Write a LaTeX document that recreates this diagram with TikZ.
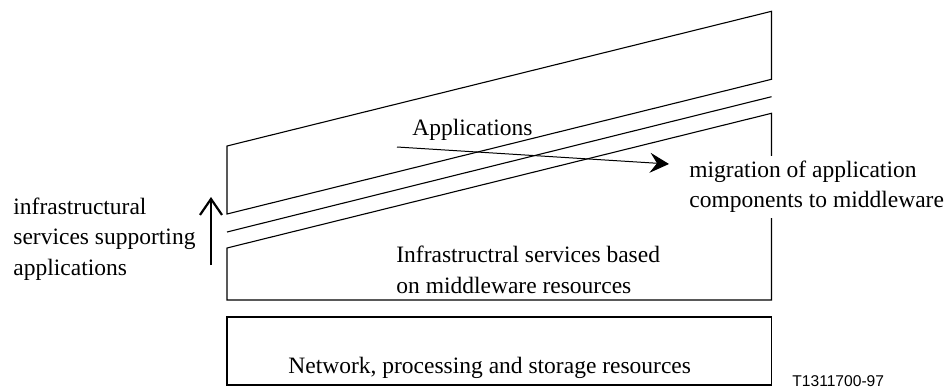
\documentclass[tikz,border=0pt]{standalone}
\usepackage{fontspec}
\setmainfont{Liberation Serif}
\newfontfamily\labelsans{Liberation Sans}
\usetikzlibrary{arrows.meta}
\tikzset{
  shapeline/.style={draw=black, line width=0.55pt, line join=miter},
  txt/.style={inner sep=0pt, font=\fontsize{11.75pt}{15.1pt}\selectfont, align=left},
  migarrow/.style={draw=black, line width=0.5pt, -{Stealth[length=9.5pt,width=10pt,inset=3.5pt]}},
  uparrow/.style={draw=black, line width=1.1pt, -{Straight Barb[length=8pt,width=11pt,line width=1.1pt]}},
}
\begin{document}
\begin{tikzpicture}[x=0.5pt,y=-0.5pt]
\useasboundingbox (0,0) rectangle (948,387);
% Applications layer (parallelogram)
\draw[shapeline] (227,146) -- (771.5,11.3) -- (771.5,79.3) -- (227,214) -- cycle;
% separating line
\draw[shapeline] (227,232) -- (771.5,96.7);
% Infrastructural services layer
\draw[shapeline] (227,300) -- (227,248) -- (771.5,113.3) -- (771.5,300) -- cycle;
% Network box
\draw[shapeline] (227,317) rectangle (771.5,385);

% texts (base anchor = baseline of the last line)
\node[txt, anchor=base west] (apps) at (412,135) {Applications};
\node[txt, anchor=base west] (infra) at (396,293) {Infrastructral services based\\on middleware resources};
\node[txt, anchor=base west] (net) at (288,373) {Network, processing and storage resources};
\node[txt, anchor=base west] (left) at (13,275) {infrastructural\\services supporting\\applications};
\node[txt, anchor=base west, fill=white, inner ysep=2.5pt, inner xsep=0pt] (mig) at (689,207.5) {migration of application\\components to middleware};
\node[inner sep=0pt, anchor=base west, font=\labelsans\fontsize{7.8pt}{9pt}\selectfont] (fig) at (792,386) {T1311700-97};

% arrows
\coordinate (migstart) at (397,147);
\coordinate (migend) at (669,164);
\draw[migarrow] (migstart) -- (migend);
\coordinate (upstart) at (211,265);
\coordinate (upend) at (211,197);
\draw[uparrow] (upstart) -- (upend);
\end{tikzpicture}
\end{document}
